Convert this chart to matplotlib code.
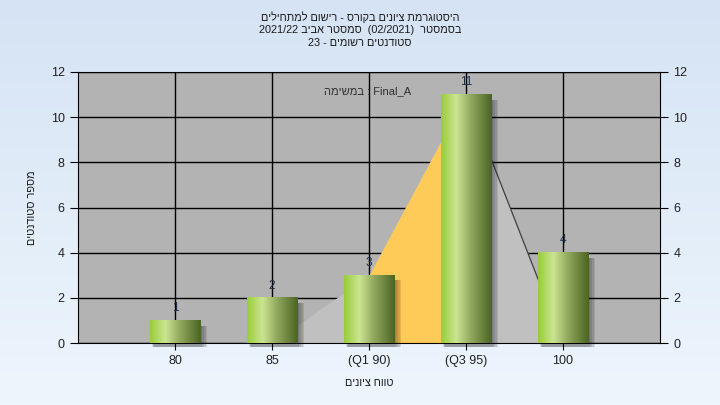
import re
import numpy as np
import matplotlib
matplotlib.use("Agg")
import matplotlib.pyplot as plt
from matplotlib.colors import LinearSegmentedColormap
from matplotlib.patches import Rectangle

plt.rcParams['font.family'] = ['Liberation Sans', 'DejaVu Sans']


def heb(s):
    # matplotlib has no bidi, so turn logical hebrew into visual order
    r = s[::-1].translate(str.maketrans('()', ')('))
    return re.sub(r'[0-9A-Za-z_/.]+', lambda m: m.group(0)[::-1], r)


# data
grades = ["80", "85", "(Q1 90)", "(Q3 95)", "100"]
students = [1, 2, 3, 11, 4]
area_vals = [0, 0, 3, 11, 0]   # grey/orange curve behind the bars
q1_idx, q3_idx = 2, 3

title_lines = ["היסטוגרמת ציונים בקורס - רישום למתחילים",
               "בסמסטר  (02/2021)  סמסטר אביב 2021/22",
               "סטודנטים רשומים - 23"]
legend_txt = heb("במשימה") + " : Final_A"
xlabel = "טווח ציונים"
ylabel = "מספר סטודנטים"

fig = plt.figure(figsize=(7.2, 4.05), dpi=100)

# background gradient
bg = fig.add_axes([0, 0, 1, 1], zorder=-10)
grad = np.linspace(0, 1, 256).reshape(-1, 1)
bg_cmap = LinearSegmentedColormap.from_list("bg", ["#d5e3f4", "#eef6fd"])
bg.imshow(grad, aspect='auto', cmap=bg_cmap, extent=[0, 1, 0, 1])
bg.axis('off')

ax = fig.add_axes([78 / 720, 1 - 343 / 405, 582 / 720, 271 / 405])
ax.set_facecolor("#b3b3b3")
x = np.arange(len(grades))

ax.set_yticks(range(0, 13, 2))
ax.set_xticks(x)
ax.set_xticklabels(grades)
ax.grid(True, color='black', linewidth=1, zorder=1)
ax.set_axisbelow(True)

# area behind bars
ax.fill_between(x, area_vals, color="#c0c0c0", zorder=2, linewidth=0)
xs = x[q1_idx:q3_idx + 1]
ax.fill_between(xs, area_vals[q1_idx:q3_idx + 1], color="#fecb59", zorder=2, linewidth=0)
ax.plot(x[q3_idx:q3_idx + 2], area_vals[q3_idx:q3_idx + 2], color="#404040", lw=0.9, zorder=2.5)

# bars with horizontal gradient and soft shadow
bar_cmap = LinearSegmentedColormap.from_list(
    "bar", [(0, '#98cc38'), (0.3, '#cbe592'), (0.6, '#8fa65c'), (1, '#4a6422')])
w = 0.52
hgrad = np.linspace(0, 1, 128).reshape(1, -1)
dx = 5 / 97
dy = 4 / 22.6
for xi, v in zip(x, students):
    for k in range(4):
        ax.add_patch(Rectangle((xi - w / 2 + dx * 0.4 + k * 0.008, -dy),
                               w + k * 0.01, v - 0.05, color='black',
                               alpha=0.10, lw=0, zorder=3, clip_on=False))
    ax.imshow(hgrad, aspect='auto', cmap=bar_cmap, zorder=4,
              extent=[xi - w / 2, xi + w / 2, 0, v])
    ax.text(xi, v + 0.28, str(v), ha='center', va='bottom',
            fontsize=8.5, color='#1c2c4c', zorder=5)
ax.set_xlim(-1, 5)
ax.set_ylim(0, 12)

for sp in ax.spines.values():
    sp.set_color('black')
ax.tick_params(axis='both', direction='out', length=5, color='black',
               labelsize=9, labelcolor='#202020')
ax.tick_params(axis='y', right=True, labelright=True, length=6)

ax.text(0.497, 0.93, legend_txt, transform=ax.transAxes, ha='center',
        va='center', fontsize=8, color='#303030', zorder=6)

for i, line in enumerate(title_lines):
    fig.text(0.5, 1 - (17 + 13 * i) / 405, heb(line), ha='center',
             va='center', fontsize=7.8, color='#1a1a1a')

fig.text(369 / 720, 1 - 383 / 405, heb(xlabel), ha='center', va='center',
         fontsize=7.8, color='#1a1a1a')
fig.text(32 / 720, 1 - 208 / 405, heb(ylabel), ha='center', va='center',
         rotation=90, fontsize=7.8, color='#1a1a1a')

fig.savefig("out.png", dpi=100)
